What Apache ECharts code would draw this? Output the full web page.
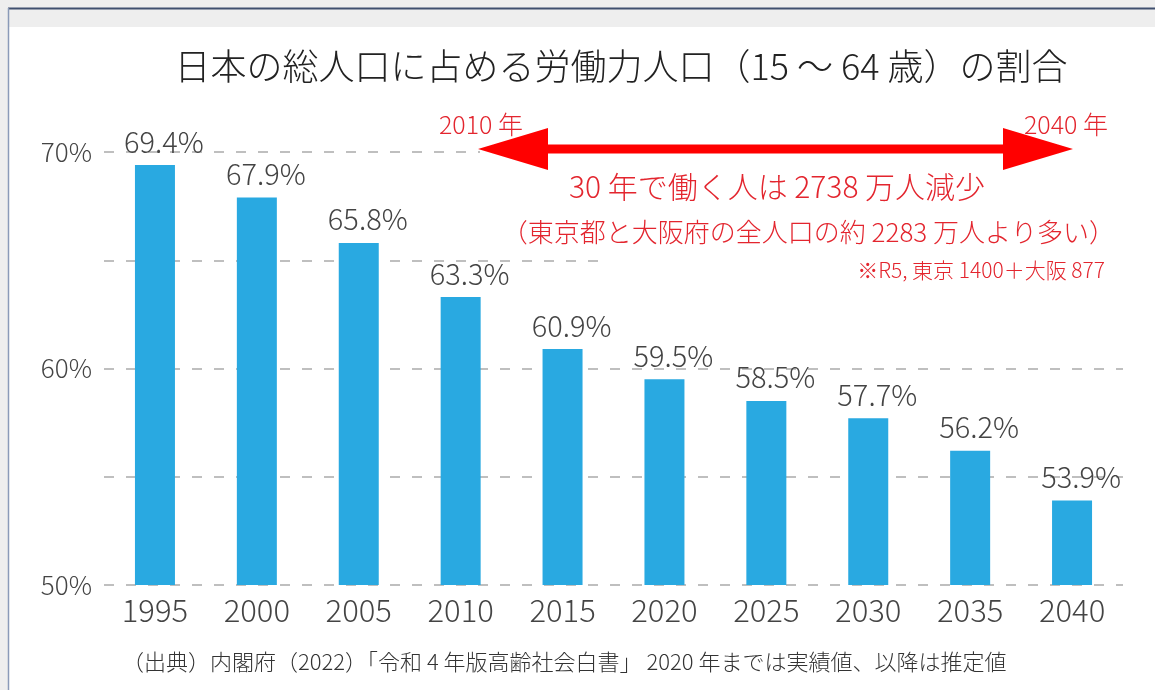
<!DOCTYPE html>
<html>
<head>
<meta charset="utf-8">
<script src="https://cdn.jsdelivr.net/npm/echarts@6/dist/echarts.min.js"></script>
<style>
  html, body { margin: 0; padding: 0; background: #fff; }
  #chart { width: 1155px; height: 690px; }
</style>
</head>
<body>
<div id="chart"></div>
<script>
const years = ['1995', '2000', '2005', '2010', '2015', '2020', '2025', '2030', '2035', '2040'];
const shares = [69.4, 67.9, 65.8, 63.3, 60.9, 59.5, 58.5, 57.7, 56.2, 53.9];
const yTicks = [50, 60, 70];

const FONT = '"Noto Sans CJK JP", "Noto Sans", sans-serif';
const RED = '#e3252e';

const chart = echarts.init(document.getElementById('chart'));

chart.setOption({
  backgroundColor: '#fff',
  animation: false,
  textStyle: { fontFamily: FONT },
  grid: { left: 104, right: 32, top: 152, bottom: 105 },
  xAxis: {
    type: 'category',
    data: years,
    axisLine: { show: false },
    axisTick: { show: false },
    axisLabel: { color: '#444', fontSize: 31, fontWeight: 300, margin: 10, fontFamily: FONT }
  },
  yAxis: {
    type: 'value',
    min: 50,
    max: 70,
    interval: 5,
    axisLine: { show: false },
    axisTick: { show: false },
    axisLabel: {
      color: '#444',
      fontSize: 26,
      fontWeight: 300,
      margin: 12,
      padding: [6, 0, 0, 0],
      fontFamily: FONT,
      formatter: v => (yTicks.indexOf(v) >= 0 ? v + '%' : '')
    },
    splitLine: {
      lineStyle: { color: '#aaa', width: 1.5, type: [10, 12] }
    }
  },
  series: [{
    type: 'bar',
    data: shares,
    barWidth: 40,
    itemStyle: { color: '#29a9e1' },
    label: {
      show: true,
      position: 'top',
      distance: 9,
      offset: [9, 0],
      color: '#444',
      fontSize: 29,
      fontWeight: 300,
      fontFamily: FONT,
      formatter: p => p.value.toFixed(1) + '%'
    }
  }],
  graphic: [
    // frame around the chart
    { type: 'rect', z: 100, shape: { x: 0, y: 0, width: 1155, height: 27 }, style: { fill: '#eeeeee' } },
    { type: 'rect', z: 100, shape: { x: 0, y: 0, width: 8, height: 690 }, style: { fill: '#eeeeee' } },
    { type: 'line', z: 101, shape: { x1: 8, y1: 8.5, x2: 1155, y2: 8.5 }, style: { stroke: '#3f4f6e', lineWidth: 2 } },
    { type: 'line', z: 101, shape: { x1: 8.5, y1: 8, x2: 8.5, y2: 690 }, style: { stroke: '#8a9ab8', lineWidth: 1.5 } },
    // white boxes behind the annotations
    { type: 'rect', z: 100, shape: { x: 480, y: 138, width: 660, height: 22 }, style: { fill: '#fff' } },
    { type: 'rect', z: 100, shape: { x: 600, y: 250, width: 540, height: 20 }, style: { fill: '#fff' } },
    // title
    {
      type: 'text', z: 102, x: 621, y: 66,
      style: { text: '日本の総人口に占める労働力人口（15 ～ 64 歳）の割合', fill: '#222', font: '300 36px ' + FONT, align: 'center', verticalAlign: 'middle' }
    },
    // arrow
    {
      type: 'polygon', z: 102,
      shape: { points: [[478, 149], [548, 128], [548, 144.5], [1003, 144.5], [1003, 128], [1073, 149], [1003, 170], [1003, 153.5], [548, 153.5], [548, 170]] },
      style: { fill: '#f00' }
    },
    { type: 'text', z: 102, x: 481, y: 124, style: { text: '2010 年', fill: RED, font: '300 25px ' + FONT, align: 'center', verticalAlign: 'middle' } },
    { type: 'text', z: 102, x: 1066, y: 124, style: { text: '2040 年', fill: RED, font: '300 25px ' + FONT, align: 'center', verticalAlign: 'middle' } },
    { type: 'text', z: 102, x: 777, y: 187, style: { text: '30 年で働く人は 2738 万人減少', fill: RED, font: '300 30px ' + FONT, align: 'center', verticalAlign: 'middle' } },
    { type: 'text', z: 102, x: 1115, y: 232, style: { text: '（東京都と大阪府の全人口の約 2283 万人より多い）', fill: RED, font: '300 26px ' + FONT, align: 'right', verticalAlign: 'middle' } },
    { type: 'text', z: 102, x: 1105, y: 270, style: { text: '※R5, 東京 1400＋大阪 877', fill: RED, font: '300 21px ' + FONT, align: 'right', verticalAlign: 'middle' } },
    // source note
    { type: 'text', z: 102, x: 122, y: 662, style: { text: '（出典）内閣府（2022）「令和 4 年版高齢社会白書」 2020 年までは実績値、以降は推定値', fill: '#333', font: '300 22px ' + FONT, verticalAlign: 'middle' } }
  ]
});
</script>
</body>
</html>
